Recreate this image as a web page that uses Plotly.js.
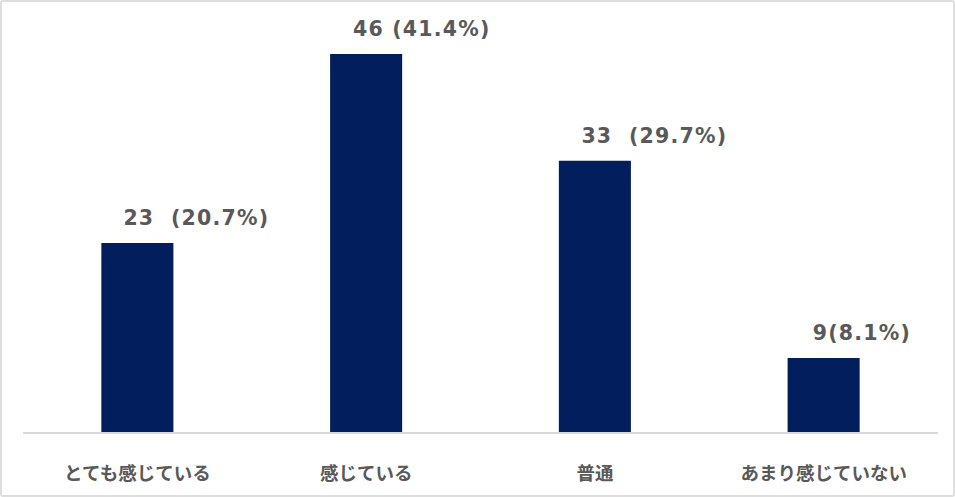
<!DOCTYPE html>
<html>
<head>
<meta charset="utf-8">
<script src="https://cdn.plot.ly/plotly-3.0.1.min.js"></script>
<style>
  body { margin: 0; background: #fff; }
  #frame { width: 955px; height: 497px; box-sizing: border-box; border: 2px solid #dedede; border-radius: 3px; overflow: hidden; }
  #chart { width: 951px; height: 493px; }
  /* verdana-ish width for the value labels */
  #chart .annotation-text { letter-spacing: 1.2px; }
</style>
</head>
<body>
<div id="frame"><div id="chart"></div></div>
<script>
// answers and counts
const categories = ["とても感じている", "感じている", "普通", "あまり感じていない"];
const counts = [23, 46, 33, 9];
const dataLabels = ["23\u00a0\u00a0(20.7%)", "46\u00a0(41.4%)", "33\u00a0\u00a0(29.7%)", "9(8.1%)"];

const trace = {
  type: "bar",
  x: categories,
  y: counts,
  marker: { color: "#021e5d" },
  hoverinfo: "none"
};

// value labels sit a little right of each bar, like the excel original
const notes = categories.map((c, i) => ({
  x: c,
  y: counts[i],
  xref: "x",
  yref: "y",
  text: dataLabels[i],
  showarrow: false,
  xanchor: "left",
  yanchor: "middle",
  xshift: -9,
  yshift: 25,
  font: { family: "DejaVu Sans", size: 20.5, color: "#595959", weight: "bold" }
}));

const layout = {
  width: 951,
  height: 493,
  margin: { l: 21, r: 15, t: 19, b: 63 },
  paper_bgcolor: "#fff",
  plot_bgcolor: "#fff",
  bargap: 0.685,
  showlegend: false,
  xaxis: {
    showline: true,
    linecolor: "#d9d9d9",
    linewidth: 1.5,
    ticks: "",
    ticklabelstandoff: 24,
    tickfont: { family: "Noto Sans CJK JP", size: 18.5, color: "#595959", weight: "bold" },
    fixedrange: true
  },
  yaxis: {
    range: [0, 50],
    visible: false,
    showgrid: false,
    zeroline: false,
    fixedrange: true
  },
  annotations: notes
};

Plotly.newPlot("chart", [trace], layout, { displayModeBar: false, staticPlot: true });
</script>
</body>
</html>
